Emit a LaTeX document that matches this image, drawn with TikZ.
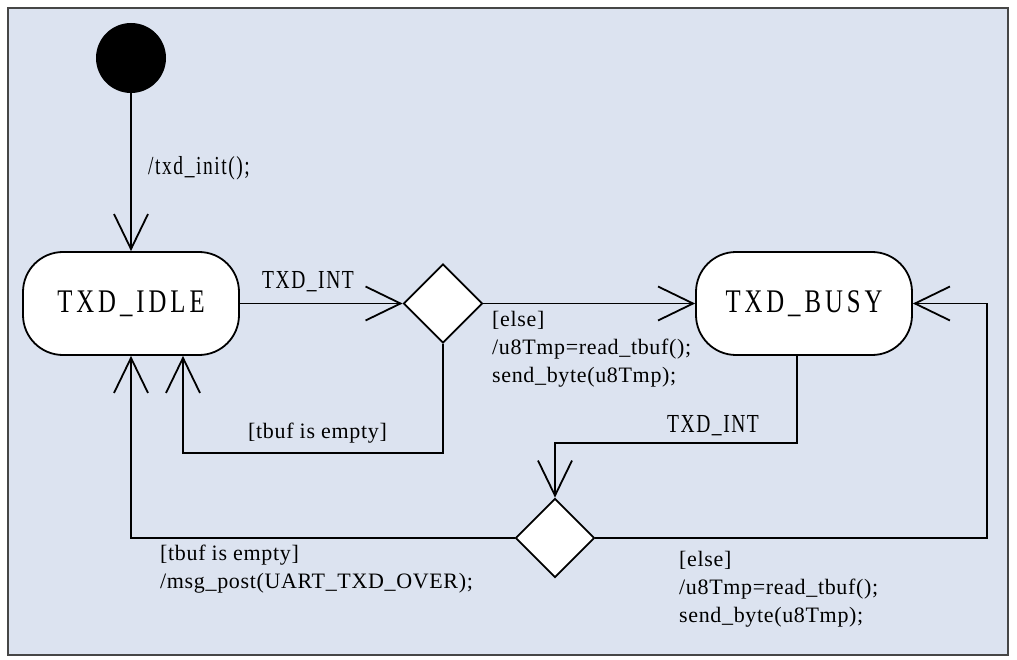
\documentclass[tikz,border=0pt]{standalone}
\usepackage{fontspec}
\setmainfont{Liberation Serif}
\newfontfamily\statefont[FakeStretch=0.75,LetterSpace=12]{Liberation Serif}
\newfontfamily\condfont[FakeStretch=0.75,LetterSpace=6]{Liberation Serif}
\newfontfamily\lblfont[LetterSpace=3]{Liberation Serif}
\usetikzlibrary{arrows.meta,shapes.geometric}
\definecolor{bgblue}{RGB}{220,227,240}
\definecolor{framegray}{RGB}{70,70,70}
\tikzset{
  statebox/.style={draw=black,line width=1.8pt,fill=white,rectangle,rounded corners=40pt,
    minimum width=216pt,minimum height=103pt,inner sep=0pt,font=\statefont\fontsize{33}{36}\selectfont},
  choice/.style={draw=black,line width=1.8pt,fill=white,diamond,minimum width=79pt,minimum height=79pt,inner sep=0pt},
  initdot/.style={circle,fill=black,minimum size=70pt,inner sep=0pt},
  arr/.style={line width=1.8pt,-{Straight Barb[length=35pt,width=34pt,line width=1.8pt]}},
  lbl/.style={anchor=base west,inner sep=0pt,align=left,font=\lblfont\fontsize{22}{28}\selectfont},
  clbl/.style={anchor=base west,inner sep=0pt,font=\condfont\fontsize{26}{28}\selectfont}
}
\begin{document}
\begin{tikzpicture}[x=1pt,y=-1pt]
\useasboundingbox (0,0) rectangle (1017,660);
\draw[framegray,line width=1.5pt,fill=bgblue] (8,8) rectangle (1008,655);
\node[initdot] (init) at (131,58) {};
\node[statebox] (idle) at (131,303.5) {TXD\_IDLE};
\node[statebox] (busy) at (804,303.5) {TXD\_BUSY};
\node[choice] (d1) at (443,303.5) {};
\node[choice] (d2) at (555,538) {};
\draw[arr] (init) -- (idle);
\draw[arr] (idle) -- (d1);
\draw[arr] (d1) -- (busy);
\draw[arr] (d1.south) -- ++(0,109) -| ([xshift=52pt]idle.south);
\draw[arr] ([xshift=-7pt]busy.south) -- ++(0,87) -| (d2.north);
\draw[arr] (d2.west) -| (idle.south);
\draw[arr] (d2.east) -| ([xshift=74pt]busy.east) -- (busy.east);
\node[clbl] (l1) at (148,175) {/txd\_init();};
\node[clbl] (l2) at (262,288) {TXD\_INT};
\node[lbl] (l3) at (492,382) {[else]\\/u8Tmp=read\_tbuf();\\send\_byte(u8Tmp);};
\node[lbl] (l4) at (248,438) {[tbuf is empty]};
\node[clbl] (l5) at (667,432) {TXD\_INT};
\node[lbl] (l6) at (160,588) {[tbuf is empty]\\/msg\_post(UART\_TXD\_OVER);};
\node[lbl] (l7) at (679,622) {[else]\\/u8Tmp=read\_tbuf();\\send\_byte(u8Tmp);};
\end{tikzpicture}
\end{document}
